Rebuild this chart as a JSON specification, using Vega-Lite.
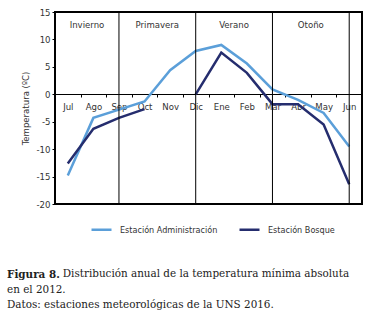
{
  "$schema": "https://vega.github.io/schema/vega-lite/v6.json",
  "width": 307,
  "height": 192,
  "autosize": {"type": "none"},
  "padding": {"left": 55, "top": 12, "right": 11, "bottom": 111},
  "background": "white",
  "config": {
    "view": {"stroke": "black", "strokeWidth": 2},
    "font": "DejaVu Sans Condensed, sans-serif",
    "locale": {"number": {"decimal": ".", "thousands": ",", "grouping": [3], "currency": ["$", ""], "minus": "-"}}
  },
  "title": {
    "text": "Figura 8.",
    "subtitle": [
      "\u2800\u2003\u2003\u2003\u2003\u00a0\u00a0Distribución anual de la temperatura mínima absoluta",
      "en el 2012.",
      "Datos: estaciones meteorológicas de la UNS 2016."
    ],
    "orient": "bottom",
    "anchor": "start",
    "frame": "group",
    "dx": -48,
    "offset": 35,
    "font": "DejaVu Serif",
    "fontSize": 10.4,
    "fontWeight": "bold",
    "color": "#222",
    "subtitleFont": "DejaVu Serif",
    "subtitleFontSize": 10.4,
    "subtitleColor": "#222",
    "subtitleLineHeight": 15.5,
    "subtitlePadding": -11
  },
  "datasets": {
    "temps": [
      {"mes": "Jul", "estacion": "Estación Administración", "t": -14.8},
      {"mes": "Ago", "estacion": "Estación Administración", "t": -4.3},
      {"mes": "Sep", "estacion": "Estación Administración", "t": -2.8},
      {"mes": "Oct", "estacion": "Estación Administración", "t": -1.3},
      {"mes": "Nov", "estacion": "Estación Administración", "t": 4.4},
      {"mes": "Dic", "estacion": "Estación Administración", "t": 7.9},
      {"mes": "Ene", "estacion": "Estación Administración", "t": 9.0},
      {"mes": "Feb", "estacion": "Estación Administración", "t": 5.6},
      {"mes": "Mar", "estacion": "Estación Administración", "t": 0.9},
      {"mes": "Abr", "estacion": "Estación Administración", "t": -1.0},
      {"mes": "May", "estacion": "Estación Administración", "t": -3.4},
      {"mes": "Jun", "estacion": "Estación Administración", "t": -9.5},
      {"mes": "Jul", "estacion": "Estación Bosque", "t": -12.6},
      {"mes": "Ago", "estacion": "Estación Bosque", "t": -6.3},
      {"mes": "Sep", "estacion": "Estación Bosque", "t": -4.3},
      {"mes": "Oct", "estacion": "Estación Bosque", "t": -2.7},
      {"mes": "Nov", "estacion": "Estación Bosque", "t": null},
      {"mes": "Dic", "estacion": "Estación Bosque", "t": 0},
      {"mes": "Ene", "estacion": "Estación Bosque", "t": 7.6},
      {"mes": "Feb", "estacion": "Estación Bosque", "t": 3.9},
      {"mes": "Mar", "estacion": "Estación Bosque", "t": -1.8},
      {"mes": "Abr", "estacion": "Estación Bosque", "t": -1.8},
      {"mes": "May", "estacion": "Estación Bosque", "t": -5.5},
      {"mes": "Jun", "estacion": "Estación Bosque", "t": -16.4}
    ],
    "limites": [
      {"mes": "Sep"}, {"mes": "Dic"}, {"mes": "Mar"}, {"mes": "Jun"}
    ],
    "estaciones1": [
      {"mes": "Ago", "nombre": "Invierno"}
    ],
    "estaciones2": [
      {"mes": "Nov", "nombre": "Primavera"},
      {"mes": "Feb", "nombre": "Verano"},
      {"mes": "May", "nombre": "Otoño"}
    ]
  },
  "layer": [
    {
      "data": {"name": "temps"},
      "mark": {"type": "line", "strokeWidth": 2.5},
      "encoding": {
        "x": {
          "field": "mes", "type": "ordinal", "bandPosition": 0.5,
          "sort": ["Jul","Ago","Sep","Oct","Nov","Dic","Ene","Feb","Mar","Abr","May","Jun"],
          "scale": {"type": "band", "paddingInner": 0, "paddingOuter": 0},
          "axis": {
            "title": null, "orient": "bottom", "offset": -110,
            "labelAngle": 0, "labelFontSize": 9.5, "labelColor": "#333",
            "domainColor": "black", "domainWidth": 1.2,
            "tickColor": "black", "tickSize": 3, "tickBand": "extent",
            "labelPadding": 4, "grid": false
          }
        },
        "y": {
          "field": "t", "type": "quantitative",
          "scale": {"domain": [-20, 15], "nice": false},
          "axis": {
            "title": "Temperatura (ºC)", "titleFontSize": 9.5, "titleFontWeight": "normal", "titleColor": "#333",
            "titlePadding": 6,
            "values": [-20, -15, -10, -5, 0, 5, 10, 15],
            "labelOverlap": false, "labelFlush": false,
            "labelFontSize": 9.5, "labelColor": "#333",
            "domain": false, "tickColor": "black", "tickSize": 3, "grid": false
          }
        },
        "color": {
          "field": "estacion", "type": "nominal",
          "scale": {"domain": ["Estación Administración", "Estación Bosque"], "range": ["#5b9fd9", "#252d6e"]},
          "legend": {
            "title": null, "orient": "none", "direction": "horizontal",
            "legendX": 35, "legendY": 206,
            "symbolType": "stroke", "symbolSize": 400, "symbolStrokeWidth": 2.5,
            "labelFontSize": 9, "labelColor": "#333", "columnPadding": 16, "labelOffset": 7
          }
        }
      }
    },
    {
      "data": {"name": "limites"},
      "mark": {"type": "rule", "color": "black", "strokeWidth": 1},
      "encoding": {
        "x": {
          "field": "mes", "type": "ordinal", "bandPosition": 0.5,
          "sort": ["Jul","Ago","Sep","Oct","Nov","Dic","Ene","Feb","Mar","Abr","May","Jun"],
          "scale": {"type": "band", "paddingInner": 0, "paddingOuter": 0},
          "axis": {
            "title": null, "orient": "bottom", "offset": -110,
            "labelAngle": 0, "labelFontSize": 9.5, "labelColor": "#333",
            "domainColor": "black", "domainWidth": 1.2,
            "tickColor": "black", "tickSize": 3, "tickBand": "extent",
            "labelPadding": 4, "grid": false
          }
        }
      }
    },
    {
      "data": {"name": "estaciones1"},
      "mark": {"type": "text", "fontSize": 9.5, "color": "#333", "baseline": "middle"},
      "encoding": {
        "x": {
          "field": "mes", "type": "ordinal", "bandPosition": 0.25,
          "sort": ["Jul","Ago","Sep","Oct","Nov","Dic","Ene","Feb","Mar","Abr","May","Jun"],
          "scale": {"type": "band", "paddingInner": 0, "paddingOuter": 0},
          "axis": {
            "title": null, "orient": "bottom", "offset": -110,
            "labelAngle": 0, "labelFontSize": 9.5, "labelColor": "#333",
            "domainColor": "black", "domainWidth": 1.2,
            "tickColor": "black", "tickSize": 3, "tickBand": "extent",
            "labelPadding": 4, "grid": false
          }
        },
        "y": {
          "datum": 12.6, "type": "quantitative",
          "scale": {"domain": [-20, 15], "nice": false},
          "axis": {
            "title": "Temperatura (ºC)", "titleFontSize": 9.5, "titleFontWeight": "normal", "titleColor": "#333",
            "titlePadding": 6,
            "values": [-20, -15, -10, -5, 0, 5, 10, 15],
            "labelOverlap": false, "labelFlush": false,
            "labelFontSize": 9.5, "labelColor": "#333",
            "domain": false, "tickColor": "black", "tickSize": 3, "grid": false
          }
        },
        "text": {"field": "nombre"}
      }
    },
    {
      "data": {"name": "estaciones2"},
      "mark": {"type": "text", "fontSize": 9.5, "color": "#333", "baseline": "middle"},
      "encoding": {
        "x": {
          "field": "mes", "type": "ordinal", "bandPosition": 0,
          "sort": ["Jul","Ago","Sep","Oct","Nov","Dic","Ene","Feb","Mar","Abr","May","Jun"],
          "scale": {"type": "band", "paddingInner": 0, "paddingOuter": 0},
          "axis": {
            "title": null, "orient": "bottom", "offset": -110,
            "labelAngle": 0, "labelFontSize": 9.5, "labelColor": "#333",
            "domainColor": "black", "domainWidth": 1.2,
            "tickColor": "black", "tickSize": 3, "tickBand": "extent",
            "labelPadding": 4, "grid": false
          }
        },
        "y": {
          "datum": 12.6, "type": "quantitative",
          "scale": {"domain": [-20, 15], "nice": false},
          "axis": {
            "title": "Temperatura (ºC)", "titleFontSize": 9.5, "titleFontWeight": "normal", "titleColor": "#333",
            "titlePadding": 6,
            "values": [-20, -15, -10, -5, 0, 5, 10, 15],
            "labelOverlap": false, "labelFlush": false,
            "labelFontSize": 9.5, "labelColor": "#333",
            "domain": false, "tickColor": "black", "tickSize": 3, "grid": false
          }
        },
        "text": {"field": "nombre"}
      }
    }
  ]
}
